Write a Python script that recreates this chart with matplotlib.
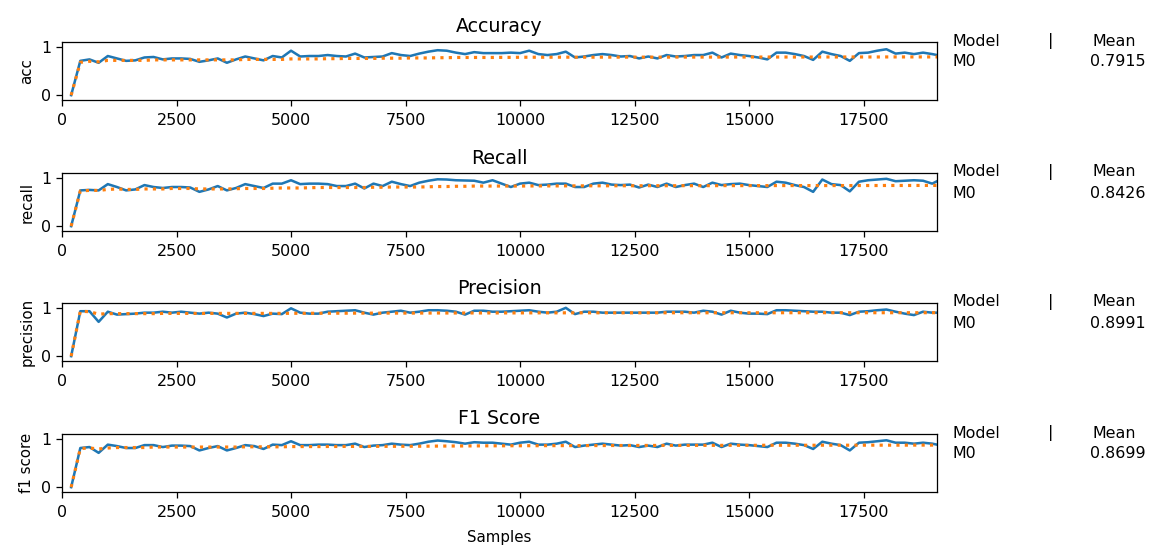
import matplotlib.pyplot as plt
import numpy as np

# samples at which the metrics were logged (every 200, last one at end of stream)
samples = list(range(200, 19001, 200)) + [19104]

acc_current = [0.00, 0.71, 0.74, 0.67, 0.81, 0.76, 0.71, 0.72, 0.78, 0.79,
               0.74, 0.76, 0.76, 0.75, 0.69, 0.72, 0.76, 0.67, 0.74, 0.80,
               0.76, 0.72, 0.81, 0.78, 0.92, 0.80, 0.81, 0.81, 0.83, 0.81,
               0.80, 0.86, 0.78, 0.79, 0.80, 0.87, 0.83, 0.81, 0.86, 0.90,
               0.93, 0.92, 0.88, 0.85, 0.89, 0.87, 0.87, 0.87, 0.88, 0.87,
               0.92, 0.85, 0.83, 0.85, 0.90, 0.78, 0.80, 0.83, 0.85, 0.83,
               0.80, 0.81, 0.76, 0.80, 0.76, 0.83, 0.80, 0.81, 0.83, 0.83,
               0.88, 0.78, 0.86, 0.83, 0.81, 0.78, 0.74, 0.88, 0.88, 0.85,
               0.81, 0.73, 0.90, 0.85, 0.81, 0.71, 0.87, 0.88, 0.92, 0.95,
               0.86, 0.88, 0.85, 0.88, 0.85, 0.83]
acc_mean = [0.00, 0.68, 0.70, 0.69, 0.72, 0.72, 0.72, 0.72, 0.72, 0.73,
            0.73, 0.73, 0.73, 0.73, 0.73, 0.73, 0.73, 0.73, 0.73, 0.74,
            0.74, 0.74, 0.74, 0.74, 0.75, 0.75, 0.75, 0.75, 0.755, 0.755,
            0.76, 0.76, 0.76, 0.76, 0.765, 0.765, 0.765, 0.77, 0.77, 0.77,
            0.775, 0.775, 0.78, 0.78, 0.78, 0.78, 0.78, 0.782, 0.782, 0.784,
            0.785, 0.785, 0.785, 0.786, 0.786, 0.786, 0.786, 0.786, 0.787, 0.787,
            0.787, 0.787, 0.787, 0.787, 0.787, 0.787, 0.788, 0.788, 0.788, 0.788,
            0.788, 0.788, 0.788, 0.789, 0.789, 0.789, 0.789, 0.789, 0.789, 0.789,
            0.789, 0.789, 0.790, 0.790, 0.790, 0.790, 0.790, 0.790, 0.790, 0.791,
            0.791, 0.791, 0.791, 0.791, 0.7915, 0.7915]

recall_current = [0.00, 0.74, 0.75, 0.74, 0.87, 0.81, 0.74, 0.76, 0.85, 0.81,
                  0.79, 0.81, 0.81, 0.80, 0.71, 0.76, 0.83, 0.74, 0.79, 0.87,
                  0.83, 0.79, 0.88, 0.88, 0.95, 0.87, 0.88, 0.88, 0.87, 0.83,
                  0.83, 0.88, 0.78, 0.88, 0.83, 0.92, 0.87, 0.83, 0.90, 0.94,
                  0.97, 0.965, 0.95, 0.945, 0.94, 0.90, 0.95, 0.88, 0.81, 0.88,
                  0.90, 0.85, 0.86, 0.88, 0.88, 0.81, 0.81, 0.88, 0.90, 0.86,
                  0.85, 0.86, 0.80, 0.86, 0.81, 0.88, 0.81, 0.85, 0.88, 0.81,
                  0.90, 0.85, 0.87, 0.88, 0.85, 0.83, 0.81, 0.92, 0.90, 0.85,
                  0.81, 0.71, 0.965, 0.87, 0.85, 0.72, 0.92, 0.95, 0.965, 0.98,
                  0.93, 0.94, 0.95, 0.94, 0.88, 0.93]
recall_mean = [0.00, 0.73, 0.74, 0.74, 0.76, 0.77, 0.76, 0.76, 0.77, 0.77,
               0.77, 0.78, 0.78, 0.78, 0.77, 0.77, 0.77, 0.77, 0.775, 0.78,
               0.78, 0.78, 0.785, 0.79, 0.79, 0.79, 0.795, 0.80, 0.80, 0.80,
               0.80, 0.80, 0.80, 0.805, 0.805, 0.81, 0.81, 0.81, 0.81, 0.815,
               0.82, 0.82, 0.825, 0.825, 0.83, 0.83, 0.83, 0.83, 0.83, 0.83,
               0.832, 0.832, 0.833, 0.833, 0.834, 0.834, 0.834, 0.835, 0.835, 0.836,
               0.836, 0.836, 0.836, 0.837, 0.837, 0.837, 0.837, 0.838, 0.838, 0.838,
               0.838, 0.839, 0.839, 0.839, 0.839, 0.839, 0.839, 0.840, 0.840, 0.840,
               0.840, 0.840, 0.840, 0.840, 0.840, 0.840, 0.841, 0.841, 0.841, 0.842,
               0.842, 0.842, 0.842, 0.843, 0.8426, 0.8426]

precision_current = [0.00, 0.93, 0.93, 0.71, 0.92, 0.86, 0.87, 0.88, 0.90, 0.90,
                     0.92, 0.90, 0.92, 0.90, 0.88, 0.90, 0.88, 0.80, 0.88, 0.90,
                     0.87, 0.83, 0.88, 0.87, 0.99, 0.90, 0.88, 0.88, 0.92, 0.93,
                     0.94, 0.95, 0.90, 0.86, 0.90, 0.92, 0.94, 0.90, 0.92, 0.95,
                     0.95, 0.94, 0.92, 0.86, 0.94, 0.94, 0.92, 0.92, 0.93, 0.94,
                     0.95, 0.92, 0.90, 0.92, 1.00, 0.87, 0.92, 0.92, 0.90, 0.90,
                     0.90, 0.90, 0.90, 0.90, 0.90, 0.92, 0.92, 0.92, 0.90, 0.94,
                     0.92, 0.86, 0.94, 0.90, 0.88, 0.88, 0.87, 0.95, 0.95, 0.94,
                     0.93, 0.92, 0.92, 0.90, 0.90, 0.85, 0.92, 0.93, 0.95, 0.965,
                     0.92, 0.88, 0.85, 0.92, 0.90, 0.90]
precision_mean = [0.00, 0.93, 0.92, 0.87, 0.88, 0.88, 0.88, 0.88, 0.88, 0.88,
                  0.885, 0.885, 0.885, 0.885, 0.885, 0.885, 0.885, 0.885, 0.885, 0.885,
                  0.885, 0.885, 0.885, 0.885, 0.887, 0.887, 0.887, 0.888, 0.888, 0.889,
                  0.889, 0.890, 0.890, 0.890, 0.890, 0.891, 0.891, 0.891, 0.892, 0.892,
                  0.893, 0.893, 0.893, 0.893, 0.894, 0.894, 0.894, 0.895, 0.895, 0.895,
                  0.896, 0.896, 0.896, 0.896, 0.897, 0.897, 0.897, 0.897, 0.897, 0.897,
                  0.897, 0.897, 0.897, 0.897, 0.897, 0.898, 0.898, 0.898, 0.898, 0.898,
                  0.898, 0.898, 0.898, 0.898, 0.898, 0.898, 0.898, 0.898, 0.899, 0.899,
                  0.899, 0.899, 0.899, 0.899, 0.899, 0.899, 0.899, 0.899, 0.899, 0.899,
                  0.899, 0.899, 0.899, 0.899, 0.8991, 0.8991]

f1_current = [0.00, 0.81, 0.83, 0.71, 0.88, 0.85, 0.81, 0.81, 0.87, 0.87,
              0.83, 0.86, 0.86, 0.85, 0.76, 0.81, 0.85, 0.76, 0.81, 0.87,
              0.85, 0.79, 0.88, 0.87, 0.95, 0.87, 0.87, 0.88, 0.88, 0.87,
              0.87, 0.90, 0.83, 0.86, 0.87, 0.90, 0.88, 0.87, 0.90, 0.94,
              0.965, 0.95, 0.93, 0.90, 0.93, 0.92, 0.92, 0.90, 0.88, 0.92,
              0.94, 0.88, 0.88, 0.90, 0.94, 0.83, 0.86, 0.88, 0.90, 0.88,
              0.86, 0.87, 0.83, 0.86, 0.83, 0.90, 0.86, 0.88, 0.88, 0.88,
              0.92, 0.83, 0.90, 0.88, 0.87, 0.85, 0.83, 0.92, 0.92, 0.90,
              0.87, 0.79, 0.94, 0.90, 0.87, 0.76, 0.92, 0.93, 0.95, 0.97,
              0.92, 0.92, 0.90, 0.92, 0.90, 0.88]
f1_mean = [0.00, 0.80, 0.81, 0.79, 0.81, 0.82, 0.82, 0.82, 0.82, 0.83,
           0.83, 0.83, 0.83, 0.83, 0.83, 0.83, 0.83, 0.83, 0.83, 0.835,
           0.835, 0.835, 0.835, 0.835, 0.84, 0.84, 0.84, 0.84, 0.842, 0.842,
           0.843, 0.843, 0.843, 0.844, 0.845, 0.845, 0.846, 0.846, 0.847, 0.848,
           0.850, 0.851, 0.852, 0.853, 0.854, 0.855, 0.856, 0.856, 0.857, 0.857,
           0.858, 0.858, 0.859, 0.859, 0.860, 0.860, 0.860, 0.861, 0.861, 0.862,
           0.862, 0.862, 0.863, 0.863, 0.863, 0.864, 0.864, 0.864, 0.865, 0.865,
           0.865, 0.865, 0.866, 0.866, 0.866, 0.866, 0.867, 0.867, 0.867, 0.867,
           0.867, 0.867, 0.868, 0.868, 0.868, 0.868, 0.868, 0.869, 0.869, 0.869,
           0.869, 0.869, 0.870, 0.870, 0.8699, 0.8699]

titles = ['Accuracy', 'Recall', 'Precision', 'F1 Score']
ylabels = ['acc', 'recall', 'precision', 'f1 score']
currents = [acc_current, recall_current, precision_current, f1_current]
means = [acc_mean, recall_mean, precision_mean, f1_mean]
final_means = ['0.7915', '0.8426', '0.8991', '0.8699']

W, H, DPI = 1157, 545, 114
fig = plt.figure(figsize=(W / DPI, H / DPI), dpi=DPI)

ax_left, ax_right = 62, 937
ax_h = 58
tops = [42, 173, 303, 434]

for i in range(4):
    top = tops[i]
    ax = fig.add_axes([ax_left / W, 1 - (top + ax_h) / H, (ax_right - ax_left) / W, ax_h / H])
    ax.plot(samples, currents[i], color='C0', linewidth=1.6)
    ax.plot(samples, means[i], color='C1', linestyle=':', linewidth=2)
    ax.set_xlim(0, samples[-1])
    ax.set_ylim(-0.1, 1.1)
    ax.set_yticks([0, 1])
    ax.set_title(titles[i], fontsize=12)
    ax.set_ylabel(ylabels[i], fontsize=9.5)
    ax.tick_params(labelsize=10)
    ax.tick_params(axis='x', pad=5)
    if i == 3:
        ax.set_xlabel('Samples', fontsize=9.5, labelpad=6)

    # model / mean summary on the right
    ty1 = 1 - (top - 1) / H
    ty2 = 1 - (top + 20) / H
    fig.text(953 / W, ty1, 'Model', fontsize=10, va='center')
    fig.text(1048 / W, ty1, '|', fontsize=10, va='center')
    fig.text(1093 / W, ty1, 'Mean', fontsize=10, va='center')
    fig.text(953 / W, ty2, 'M0', fontsize=10, va='center')
    fig.text(1090 / W, ty2, final_means[i], fontsize=10, va='center')

fig.savefig('out.png', dpi=DPI)
